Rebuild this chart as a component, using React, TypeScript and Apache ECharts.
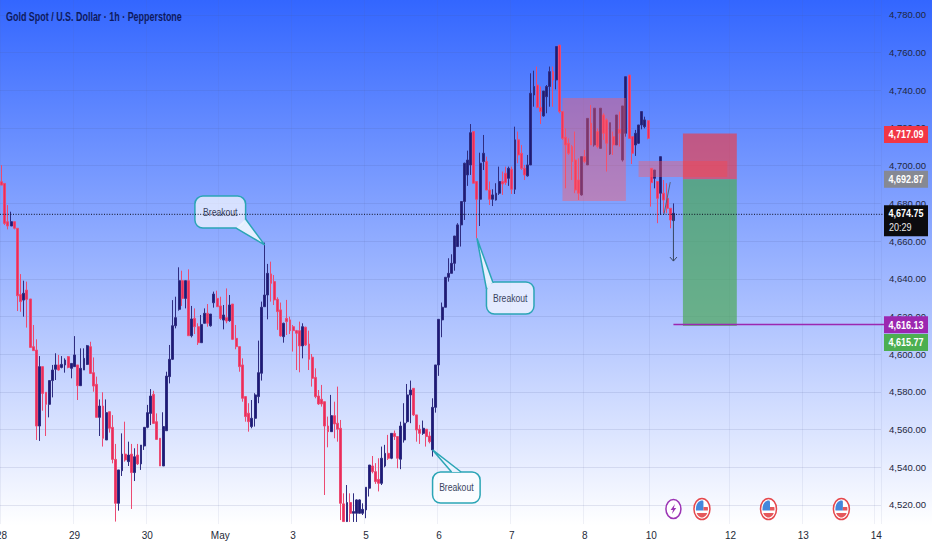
import React, { useEffect, useRef } from "react";
import * as echarts from "echarts";

const SANS = '"Liberation Sans",Arial,sans-serif';

// [open, close, low, high], hourly
const candles: number[][] = [
[4691.5,4689.7,4689.7,4700.3],[4690.6,4669.4,4668.5,4690.6],[4670.3,4668,4666.2,4679.1],[4668,4670.3,4668,4675.6],[4670.3,4666.8,4666.2,4670.3],
[4666.8,4631,4622.9,4666.8],[4631.7,4627.9,4622.5,4642.5],[4628.7,4632.3,4619.9,4639],[4634,4629.1,4614.1,4638.5],[4629.3,4603.6,4603.6,4629.3],
[4604,4601.9,4601.9,4615.5],[4602.2,4561.9,4554.5,4607.9],[4561.9,4593.4,4554,4599],[4593.4,4579.2,4570,4593.4],[4579.8,4573.4,4556.6,4579.8],
[4573.4,4586,4566.5,4586],[4586,4591.6,4577.1,4594.3],[4592,4594.3,4586.3,4600.5],[4594.3,4591.6,4591.3,4599.6],[4593,4594.6,4592.5,4599],
[4594.3,4596.9,4590.2,4597.8],[4598.7,4593,4592.5,4599],[4592.5,4595.1,4587.2,4595.1],[4593.4,4599.6,4593.4,4609.6],[4594.3,4583.3,4575.7,4594.3],
[4583.3,4592.5,4583.3,4603.1],[4591.6,4597.8,4591.6,4603.1],[4594.6,4604.5,4594.3,4604.9],[4604,4589.8,4589.8,4606.6],[4590.2,4583.1,4580.1,4598.3],
[4584,4566.5,4566.5,4588.1],[4566.5,4572.5,4556.6,4576],[4572.5,4555.4,4551,4579.8],[4554.5,4569,4554.5,4576],[4569.5,4560.7,4558.4,4569.5],
[4561.2,4544.2,4542.1,4567.7],[4544.2,4520.9,4511.2,4552.4],[4520.9,4538.6,4517,4538.6],[4538.2,4547,4535.4,4558],[4547,4543.9,4543,4564.2],
[4543,4546.5,4540.7,4553.6],[4547,4537.2,4517.9,4552.4],[4537.2,4545.6,4532.7,4550.1],[4546.5,4541.8,4541.2,4552.4],[4541.8,4551.8,4538.6,4551.8],
[4551.3,4561.2,4549.2,4561.2],[4561.2,4569,4560.7,4573.1],[4568.6,4577.8,4562.4,4581.5],[4578.7,4563.3,4563.3,4580.6],[4564.2,4554.8,4554.8,4568.6],
[4555.4,4540.7,4540.7,4555.4],[4540.7,4561.6,4540.7,4569.2],[4559.4,4588.4,4559.4,4590.7],[4588.1,4597.3,4584.5,4604.9],[4597.3,4615.1,4596.9,4628.7],
[4615.1,4619.4,4613.7,4630.5],[4623.8,4639,4623.1,4646.1],[4639,4629.6,4625.6,4644.3],[4629.6,4639,4624.3,4639],[4639,4609.8,4609.8,4645],
[4609.8,4618.7,4608.9,4625.6],[4619,4614.6,4610.7,4624.3],[4614.6,4606.1,4604.9,4616.4],[4606.1,4615.8,4606.1,4620.8],[4616.4,4621.7,4616.4,4624.3],
[4621.7,4616.4,4614.6,4626.6],[4615.1,4621.3,4614.6,4621.3],[4627.3,4631.9,4624.7,4633.2],[4629.6,4625.2,4625.2,4633.7],[4625.6,4619,4618.1,4630.5],
[4618.1,4620.8,4613.2,4626.1],[4619.4,4617.6,4616.4,4634.9],[4617.8,4626.1,4617.2,4631.4],[4626.6,4607.9,4607.5,4626.6],[4608.4,4604,4602.6,4615.5],
[4604,4593.4,4590.7,4604],[4594.3,4576.6,4574.8,4597.8],[4577.5,4566.9,4564.2,4577.5],[4568.7,4564.2,4558.9,4574],[4561.6,4566,4560.7,4575.7],
[4566,4578.4,4561.6,4579.3],[4577.5,4590.2,4574,4607.2],[4589.9,4624.9,4586,4627.9],[4625.2,4631.4,4625.2,4659.2],[4631.4,4642.9,4618.5,4647.9],
[4642.6,4637.6,4627.9,4649.1],[4638.5,4628.8,4626.1,4642],[4629.1,4622.6,4612.9,4630.2],[4623.5,4609.7,4609.3,4627.4],[4609.3,4616.4,4606.1,4616.7],
[4619,4617.3,4610.2,4628.8],[4618.2,4612.5,4610.7,4619.9],[4614.6,4612.5,4601.4,4615.5],[4612.5,4611.1,4591.6,4612.9],[4612.5,4604.4,4590.4,4617.3],
[4604.4,4614.6,4597.8,4616.4],[4614.3,4604.9,4604.4,4614.6],[4605.4,4597.3,4591.6,4612.5],[4598.4,4587.2,4582.8,4600.1],[4587.7,4577.5,4576.6,4592.5],
[4577.8,4573.6,4573.1,4581],[4576.1,4573.6,4572.2,4583.7],[4574.8,4561.9,4525.3,4574.8],[4561.9,4558.9,4550.6,4566.9],[4558.9,4567.4,4558.9,4578.4],
[4567.4,4563,4555.4,4574.8],[4563.4,4560.2,4553.6,4582.8],[4560.7,4520.9,4512,4565.1],[4520.6,4511.2,4511,4526.2],[4511.2,4521.3,4511,4530.6],
[4521.3,4515.6,4511,4526.2],[4515.6,4516.5,4511,4526.2],[4515.6,4522.7,4511,4523],[4515.6,4522.7,4515.6,4523],[4515.6,4517.7,4514.7,4520.9],
[4517.4,4529.4,4513,4529.4],[4528.9,4541.2,4524.5,4541.2],[4540.7,4537.7,4536.8,4546],[4537.7,4532.4,4531.2,4542.2],[4533.6,4531.5,4527.2,4544.8],
[4531.5,4544.8,4530.6,4551],[4540.7,4547.4,4540,4551.9],[4547.4,4544.8,4543.9,4557.2],[4544.8,4558,4544.3,4558],[4558,4556.3,4554.5,4559.5],
[4556.3,4544.8,4539.5,4556.3],[4544.3,4561.9,4539,4564.2],[4554.5,4563.4,4553.1,4574],[4564.2,4578.4,4563.4,4584.2],[4578.4,4581,4563.4,4586],
[4581.9,4567.8,4567.2,4581.9],[4567.8,4559.8,4553.6,4567.8],[4560.2,4558,4552.4,4562.5],[4558,4560.7,4557.2,4564.8],[4560.2,4556.3,4551,4560.2],
[4556.6,4553.6,4552.7,4558.9],[4549.2,4571.8,4545.7,4576.6],[4571.8,4594.3,4569,4594.3],[4594.3,4618.5,4588.5,4618.5],[4618.2,4624.9,4609,4627.4],
[4624.9,4640.8,4624.9,4640.8],[4640.8,4642.9,4638.5,4650.9],[4642.9,4648.2,4642.9,4653],[4648.2,4662.7,4644.3,4662.7],[4657.1,4668.6,4657.1,4669.5],
[4668.6,4681,4657.1,4681],[4681,4701.3,4671.2,4701.6],[4695.1,4703,4689.3,4708],[4700.4,4717.5,4695.1,4722.1],[4718.1,4690.7,4690.7,4718.1],
[4691.6,4682.2,4661.5,4691.6],[4682.2,4701.3,4668,4706.9],[4702.2,4706.6,4697.7,4716.3],[4702.2,4687.1,4687.1,4704.8],[4687.1,4682.2,4679.2,4691.6],
[4682.2,4684.5,4678.6,4687.5],[4681.8,4685.4,4681.5,4690.7],[4685.4,4691.6,4684.5,4699.5],[4691.6,4690.3,4684.5,4696.9],[4696,4691,4689.8,4699.5],
[4693.3,4698.6,4689.3,4699.5],[4698.1,4687.5,4685,4699.5],[4687.5,4713.7,4685,4720.7],[4713.7,4705.7,4701.3,4718.1],[4706.6,4698.6,4697.7,4711],
[4698.6,4695.1,4692.4,4700.4],[4694.6,4700.4,4694.2,4705.7],[4700.4,4738.4,4700.4,4749],[4737.5,4742,4731.3,4750.4],[4742.8,4731,4730.5,4752.6],
[4731,4728.7,4722.1,4742],[4726.4,4739.6,4726,4739.6],[4736.6,4742,4727.8,4742.8],[4742,4749.9,4731.3,4752.6],[4749.9,4745.5,4731.3,4752.6],
[4745.5,4763.2,4740.5,4763.2],[4764,4728.7,4727.8,4764],[4728.7,4714.5,4713.7,4728.7],[4715.1,4711,4688,4719.8],[4711.9,4706.6,4705.7,4714.5],
[4710.1,4702.2,4692.4,4711],[4703,4687.1,4685.4,4718.1],[4692.4,4685.4,4681.8,4703.9],[4684.5,4704.8,4684.1,4704.8],[4704.8,4702.2,4701.3,4708.4],
[4700.4,4725.1,4700.4,4725.1],[4722.5,4711,4711,4732.2],[4711,4730.5,4710.1,4730.5],[4718.1,4710.1,4709.2,4719.8],[4709.2,4730.5,4709.2,4730.5],
[4726.9,4717.2,4713.7,4727.8],[4724.3,4711.9,4696.9,4725.1],[4706.2,4722.8,4705.7,4722.8],[4715.4,4711,4705.7,4718.1],[4711,4726.9,4711,4726.9],
[4719.3,4717.2,4710.1,4728.7],[4703,4731.7,4702.2,4731.7],[4717.2,4747.2,4715.4,4747.2],[4748.1,4714.5,4714.5,4748.1],[4715.4,4706.6,4700.9,4715.4],
[4711,4717.2,4705.2,4719],[4711.9,4721.6,4711.5,4721.6],[4721.6,4728.7,4719.3,4728.7],[4720.7,4724.3,4719.8,4726],[4723.9,4714.5,4714,4723.9],
[4698.6,4691,4678.3,4698.6],[4693.3,4697.7,4688,4697.7],[4691.6,4682.7,4669.5,4691.6],[4685.4,4704.8,4673.9,4704.8],[4685.4,4681.8,4674.8,4692.4],
[4682.7,4677.4,4674.8,4690.7],[4677.4,4671.2,4666.8,4677.4],[4670.9,4674.75,4670.3,4680],
];

const slotCount = 278;
const dayTickIndex = [0, 23, 46, 69, 92, 115, 138, 161, 184, 205, 230, 253, 276];
const dayTickLabel = ["28", "29", "30", "May", "3", "5", "6", "7", "8", "10", "12", "13", "14"];
const priceTicks = [4520, 4540, 4560, 4580, 4600, 4620, 4640, 4660, 4680, 4700, 4720, 4740, 4760, 4780];

const titleText = "Gold Spot / U.S. Dollar · 1h · Pepperstone";
const lastPrice = 4674.75;
const drawnLastPrice = 4674.2;
const countdown = "20:29";
const stopPrice = 4717.09;
const entryPrice = 4692.87;
const targetPrice = 4615.77;
const targetLinePrice = 4616.13;
const targetBoxBottom = 4615;
const targetLineDrawn = 4615.7;

const lastIndex = 212;
const positionFrom = 214.6;
const positionTo = 232;

const calloutText = "Breakout";
const calloutTip = [[83.1, 4658], [150, 4661.5], [136, 4549.2]];
const calloutBase = [[[74.3, 4666.9], [76.8, 4671.7]], [[153.1, 4634.6], [155.3, 4638.3]], [[141.5, 4537.5], [145.2, 4537.5]]];
const calloutBoxX = [[61, 76.8], [153.1, 168.3], [136.1, 151.2]];
const calloutBoxP = [[4683.9, 4666.9], [4638.3, 4621.3], [4537.5, 4521]];

const zoneBoxes = [
  { from: 176.5, to: 197, top: 4735.9, bottom: 4681.3 },
  { from: 201.4, to: 228.8, top: 4702.5, bottom: 4694 },
];
const flagIndex = [220.6, 241.8, 264.5];
const boltIndex = [212];
const sketchLine = [[209, 4674], [210.5, 4691.3]];
const arrowEnd = 4649.4;

const categories = Array.from({ length: slotCount }, (_, i) => {
  const k = dayTickIndex.indexOf(i);
  return k >= 0 ? dayTickLabel[k] : "";
});

const fmt = (v: number) => v.toLocaleString("en-US", { minimumFractionDigits: 2, maximumFractionDigits: 2 });

type Co = (i: number, v: number) => number[];
const overlay = (items: any[], z: number, draw: (it: any, co: Co, cs: any, k: number) => any) => ({
  type: "custom",
  coordinateSystem: "cartesian2d",
  z,
  clip: false,
  silent: true,
  data: items.map(() => [0, 0]),
  renderItem: (p: any, api: any) =>
    draw(items[p.dataIndex], (i, v) => api.coord([i, v]), p.coordSys, p.dataIndex),
});

const rectOf = (a: number[], b: number[], fill: string) => ({
  type: "rect",
  shape: { x: a[0], y: a[1], width: b[0] - a[0], height: b[1] - a[1] },
  style: { fill },
});

// condensed real text: the reference uses a narrow face that is not installed
const narrowText = (text: string, x: number, y: number, font: string, fill: string, scaleX: number, align = "center") => ({
  type: "text",
  x,
  y,
  scaleX,
  style: { text, x: 0, y: 0, align, verticalAlign: "middle", fill, font },
});

// polygon of an ellipse's part inside a box
const ellipsePart = (rx: number, ry: number, x1: number, x2: number, y1: number, y2: number) => {
  const L: number[][] = [];
  const R: number[][] = [];
  const n = 8;
  for (let k = 0; k <= n; k++) {
    const y = y1 + ((y2 - y1) * k) / n;
    const w = rx * Math.sqrt(Math.max(0, 1 - (y * y) / (ry * ry)));
    L.push([Math.max(x1, -w), y]);
    R.unshift([Math.min(x2, w), y]);
  }
  return [...L, ...R];
};

export default function App() {
  const ref = useRef<HTMLDivElement>(null);
  useEffect(() => {
    const chart = echarts.init(ref.current!, null, { renderer: "svg" });
    const iconY = (cs: any) => cs.y + cs.height - 15;
    const option: any = {
      animation: false,
      backgroundColor: {
        type: "linear", x: 0, y: 0, x2: 0, y2: 1,
        colorStops: [
          { offset: 0, color: "#3366ff" },
          { offset: 0.955, color: "#ffffff" },
          { offset: 1, color: "#ffffff" },
        ],
      },
      grid: { left: 0, top: 0, width: 881, height: 524, outerBoundsMode: "none" },
      xAxis: {
        type: "category",
        data: categories,
        boundaryGap: true,
        axisLine: { show: false },
        axisTick: { show: false },
        axisLabel: {
          interval: (_: number, v: string) => v !== "",
          color: "#252a38", fontFamily: SANS, fontSize: 10, margin: 6,
        },
        splitLine: {
          show: true,
          interval: (_: number, v: string) => v !== "",
          lineStyle: { color: "rgba(90,105,160,0.09)", width: 1 },
        },
      },
      yAxis: {
        type: "value",
        position: "right",
        min: 4509.92,
        max: 4787.9,
        axisLine: { show: false },
        axisTick: { show: false, customValues: priceTicks },
        axisLabel: {
          customValues: priceTicks,
          formatter: (v: number) => fmt(v),
          color: "#1f2740", fontFamily: SANS, fontSize: 9.5, margin: 8, align: "left",
        },
        splitLine: { show: true, lineStyle: { color: "rgba(80,95,150,0.14)", width: 1 } },
      },
      series: [
        {
          type: "candlestick",
          data: candles,
          barWidth: 2.4,
          z: 2,
          itemStyle: {
            color: "#1d1a78", color0: "#e82c5c",
            borderColor: "#2f2d80", borderColor0: "#ec4a72", borderWidth: 1,
          },
        },
        overlay(zoneBoxes, 3, (z, co) => rectOf(co(z.from, z.top), co(z.to, z.bottom), "rgba(255,90,100,0.42)")),
        overlay([0], 3, (_, co) => rectOf(co(positionFrom, stopPrice), co(positionTo, entryPrice), "rgba(245,55,60,0.62)")),
        overlay([0], 3, (_, co) => rectOf(co(positionFrom, entryPrice), co(positionTo, targetBoxBottom), "rgba(76,168,88,0.7)")),
        overlay([0], 4, (_, co, cs) => {
          const a = co(lastIndex, targetLineDrawn);
          return { type: "line", shape: { x1: a[0], y1: a[1], x2: cs.x + cs.width + 3, y2: a[1] }, style: { stroke: "#9c27b0", lineWidth: 1.5 } };
        }),
        overlay([0], 4, (_, co) => {
          const a = co(lastIndex, drawnLastPrice);
          const b = co(lastIndex, arrowEnd);
          const s = { stroke: "#37465f", lineWidth: 1, fill: "none" };
          return {
            type: "group",
            children: [
              { type: "line", shape: { x1: a[0], y1: a[1], x2: b[0], y2: b[1] }, style: s },
              { type: "polyline", shape: { points: [[b[0] - 3.5, b[1] - 4], [b[0], b[1]], [b[0] + 3.5, b[1] - 4]] }, style: s },
              { type: "polyline", shape: { points: sketchLine.map((q) => co(q[0], q[1])) }, style: { stroke: "#55607a", lineWidth: 1, fill: "none" } },
            ],
          };
        }),
        overlay(calloutTip, 5, (tip, co, _cs, k) => {
          const a = co(calloutBoxX[k][0], calloutBoxP[k][0]);
          const b = co(calloutBoxX[k][1], calloutBoxP[k][1]);
          const t = co(tip[0], tip[1]);
          const p = co(calloutBase[k][0][0], calloutBase[k][0][1]);
          const q = co(calloutBase[k][1][0], calloutBase[k][1][1]);
          const teal = "#2ba5b6";
          return {
            type: "group",
            children: [
              {
                type: "rect",
                shape: { x: a[0], y: a[1], width: b[0] - a[0], height: b[1] - a[1], r: 8 },
                style: { fill: "rgba(255,255,255,0.68)", stroke: teal, lineWidth: 1.5 },
              },
              { type: "polygon", shape: { points: [p, t, q] }, style: { fill: "rgba(235,242,255,0.95)" } },
              { type: "polyline", shape: { points: [p, t, q] }, style: { stroke: teal, lineWidth: 1.5, fill: "none" } },
              narrowText(calloutText, (a[0] + b[0]) / 2, (a[1] + b[1]) / 2, `10.5px ${SANS}`, "#39435e", 0.82),
            ],
          };
        }),
        overlay([0], 6, (_, co, cs) => {
          const y = co(0, drawnLastPrice)[1];
          return {
            type: "line",
            shape: { x1: cs.x, y1: y, x2: cs.x + cs.width + 3, y2: y },
            style: { stroke: "#0c0f20", lineWidth: 1, lineDash: [1, 1.6] },
          };
        }),
        overlay(boltIndex, 7, (i, co, cs) => {
          const x = co(i, lastPrice)[0];
          const y = iconY(cs);
          return {
            type: "group", x, y,
            children: [
              { type: "ellipse", shape: { cx: 0, cy: 0, rx: 7.5, ry: 9.5 }, style: { fill: "#ffffff", stroke: "#9c35b5", lineWidth: 1.5 } },
              { type: "polygon", shape: { points: [[1.5, -5], [-2.8, 1], [-0.4, 1], [-1.5, 5], [2.8, -1], [0.4, -1]] }, style: { fill: "#9c35b5" } },
            ],
          };
        }),
        overlay(flagIndex, 7, (i, co, cs) => {
          const x = co(i, lastPrice)[0];
          const y = iconY(cs);
          const poly = (pts: number[][], fill: string) => ({ type: "polygon", shape: { points: pts }, style: { fill } });
          return {
            type: "group", x, y,
            children: [
              { type: "ellipse", shape: { cx: 0, cy: 0, rx: 8, ry: 10.5 }, style: { fill: "#ffffff", stroke: "#e5484d", lineWidth: 1.5 } },
              poly(ellipsePart(6, 8.5, -6, 1.5, -8.4, 1.5), "#4487dc"),
              poly(ellipsePart(6, 8.5, 1.5, 6, -2, 1.5), "#e5585c"),
              poly(ellipsePart(6, 8.5, -6, 6, 4, 8.4), "#e5585c"),
            ],
          };
        }),
        overlay(
          [
            { p: stopPrice, t: fmt(stopPrice), c: "#f23645", h: 17, n: 1 },
            { p: entryPrice, t: fmt(entryPrice), c: "#868993", h: 17, n: 0 },
            { p: targetLinePrice, t: fmt(targetLinePrice), c: "#9c27b0", h: 17, n: 1 },
            { p: targetPrice, t: fmt(targetPrice), c: "#4caf50", h: 17, n: 18 },
          ],
          8,
          (g, co, cs) => {
            const y = co(0, g.p)[1] + g.n;
            const x = cs.x + cs.width + 3;
            return {
              type: "group",
              children: [
                { type: "rect", shape: { x, y: y - g.h / 2, width: 44, height: g.h }, style: { fill: g.c } },
                narrowText(g.t, x + 22, y, `bold 11px ${SANS}`, "#ffffff", 0.82),
              ],
            };
          }
        ),
        overlay([0], 8, (_, co, cs) => {
          const y = co(0, drawnLastPrice)[1];
          const x = cs.x + cs.width + 3;
          return {
            type: "group",
            children: [
              { type: "rect", shape: { x, y: y - 9, width: 44, height: 31 }, style: { fill: "#0b0b0f" } },
              narrowText(fmt(lastPrice), x + 22, y - 1, `bold 11px ${SANS}`, "#ffffff", 0.82),
              narrowText(countdown, x + 5, y + 13, `11px ${SANS}`, "#e8e8e8", 0.82, "left"),
            ],
          };
        }),
        overlay([0], 9, (_, __, cs) =>
          narrowText(titleText, cs.x + 6, cs.y + 16.5, `bold 12px ${SANS}`, "#0e1a5e", 0.745, "left")
        ),
      ],
    };
    chart.setOption(option);
    return () => chart.dispose();
  }, []);
  return <div ref={ref} style={{ position: "absolute", left: 0, top: 0, width: 932, height: 550 }} />;
}
